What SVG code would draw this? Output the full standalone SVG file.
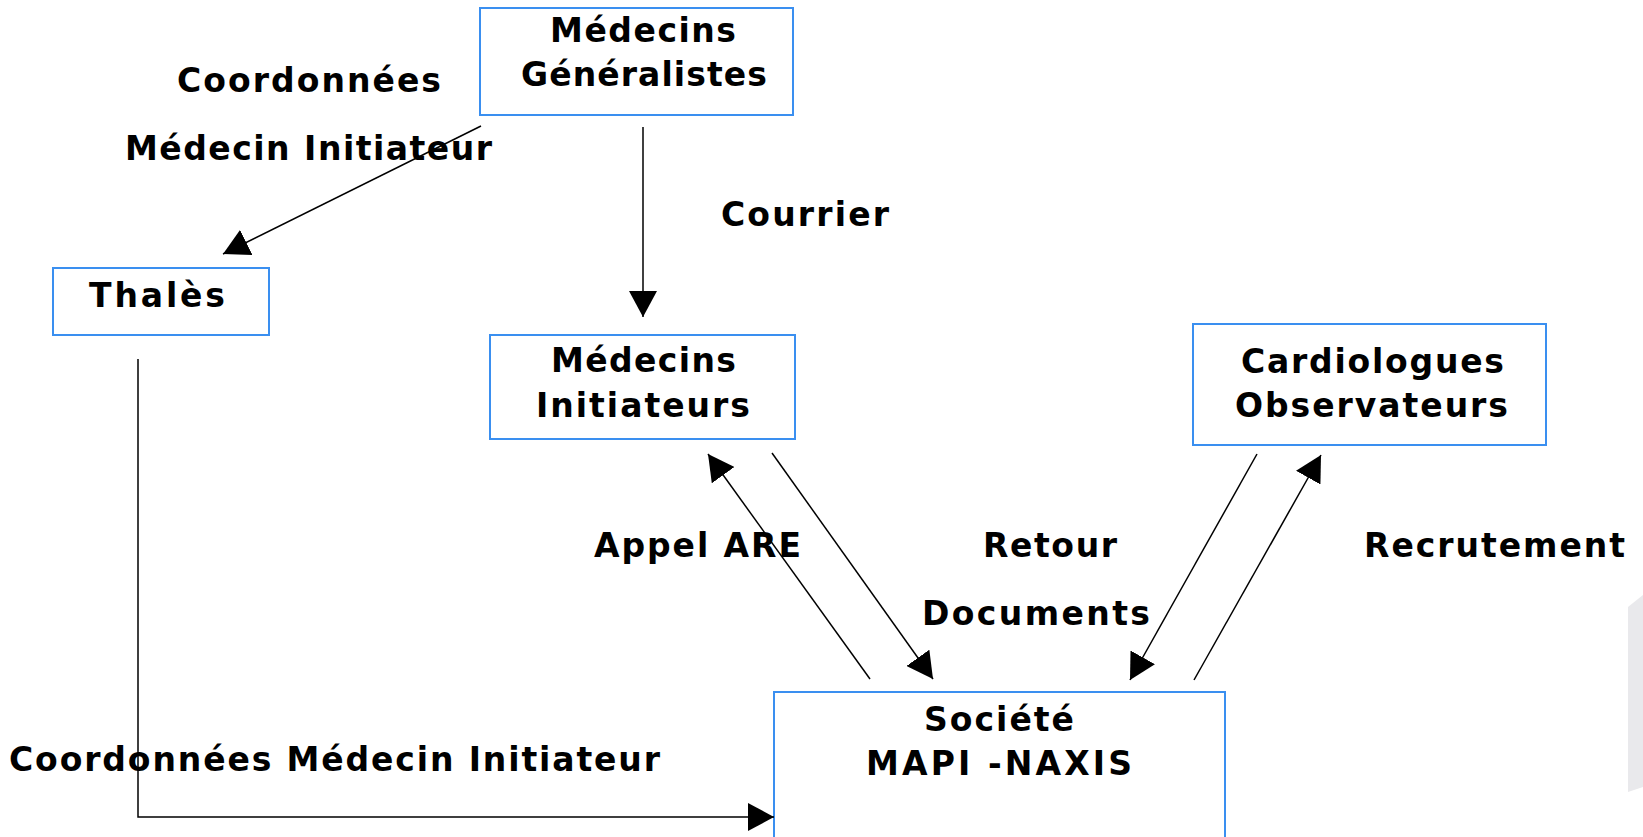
<svg xmlns="http://www.w3.org/2000/svg" width="1643" height="837" viewBox="0 0 1643 837">
<style>
.box{fill:#ffffff;stroke:#3a8ff0;stroke-width:2}
.t{font-family:"DejaVu Sans",Verdana,sans-serif;font-weight:bold;font-size:33px;fill:#000}
.c{fill:none;stroke:#000;stroke-width:1.5}
</style>
<defs>
<marker id="ah" viewBox="0 0 26 28" refX="26" refY="14" markerWidth="26" markerHeight="28" markerUnits="userSpaceOnUse" orient="auto">
<path d="M0,0 L26,14 L0,28 z" fill="#000"/>
</marker>
</defs>
<rect width="1643" height="837" fill="#ffffff"/>
<polygon points="1643,595 1628,607 1628,792 1643,787" fill="#e9e9ec"/>

<g id="medecins-generalistes">
<rect class="box" x="480" y="8" width="313" height="107"/>
<text class="t" x="550" y="42" textLength="186" lengthAdjust="spacing">Médecins</text>
<text class="t" x="521" y="86" textLength="246" lengthAdjust="spacing">Généralistes</text>
</g>

<g id="thales">
<rect class="box" x="53" y="268" width="216" height="67"/>
<text class="t" x="89" y="307" textLength="136" lengthAdjust="spacing">Thalès</text>
</g>

<g id="medecins-initiateurs">
<rect class="box" x="490" y="335" width="305" height="104"/>
<text class="t" x="551" y="372" textLength="185" lengthAdjust="spacing">Médecins</text>
<text class="t" x="536" y="417" textLength="214" lengthAdjust="spacing">Initiateurs</text>
</g>

<g id="cardiologues-observateurs">
<rect class="box" x="1193" y="324" width="353" height="121"/>
<text class="t" x="1241" y="373" textLength="263" lengthAdjust="spacing">Cardiologues</text>
<text class="t" x="1235" y="417" textLength="273" lengthAdjust="spacing">Observateurs</text>
</g>

<g id="societe-mapi-naxis">
<rect class="box" x="774" y="692" width="451" height="146"/>
<text class="t" x="924" y="731" textLength="150" lengthAdjust="spacing">Société</text>
<text class="t" x="866" y="775" textLength="266" lengthAdjust="spacing">MAPI -NAXIS</text>
</g>

<g id="connectors">
<line class="c" x1="481" y1="126" x2="223" y2="254" marker-end="url(#ah)"/>
<line class="c" x1="643" y1="127" x2="643" y2="317" marker-end="url(#ah)"/>
<polyline class="c" points="138,359 138,817 774,817" marker-end="url(#ah)"/>
<line class="c" x1="870" y1="679" x2="708" y2="454" marker-end="url(#ah)"/>
<line class="c" x1="772" y1="453" x2="933" y2="679" marker-end="url(#ah)"/>
<line class="c" x1="1257" y1="454" x2="1130" y2="680" marker-end="url(#ah)"/>
<line class="c" x1="1194" y1="680" x2="1321" y2="455" marker-end="url(#ah)"/>
</g>

<g id="labels">
<text class="t" x="177" y="92" textLength="264" lengthAdjust="spacing">Coordonnées</text>
<text class="t" x="125" y="160" textLength="367" lengthAdjust="spacing">Médecin Initiateur</text>
<text class="t" x="721" y="226" textLength="168" lengthAdjust="spacing">Courrier</text>
<text class="t" x="594" y="557" textLength="207" lengthAdjust="spacing">Appel ARE</text>
<text class="t" x="983" y="557" textLength="134" lengthAdjust="spacing">Retour</text>
<text class="t" x="922" y="625" textLength="228" lengthAdjust="spacing">Documents</text>
<text class="t" x="1364" y="557" textLength="261" lengthAdjust="spacing">Recrutement</text>
<text class="t" x="9" y="771" textLength="651" lengthAdjust="spacing">Coordonnées Médecin Initiateur</text>
</g>
</svg>
